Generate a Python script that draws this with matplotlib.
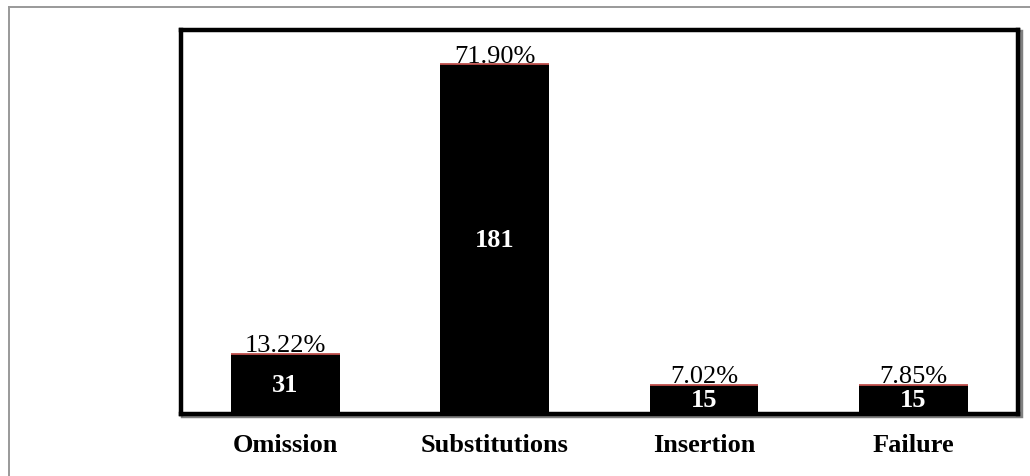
import matplotlib.pyplot as plt
from matplotlib.patches import Rectangle
from matplotlib.lines import Line2D

# data
categories = ['Omission', 'Substitutions', 'Insertion', 'Failure']
counts = [31, 181, 15, 15]
percents = ['13.22%', '71.90%', '7.02%', '7.85%']

W, H = 1030, 476
fig = plt.figure(figsize=(W / 100, H / 100), dpi=100)
plt.rcParams['font.family'] = ['Liberation Serif', 'DejaVu Serif']

# axes placement in pixels
left, right, top, bottom = 180.5, 1018, 29.5, 413.5
ax = fig.add_axes([left / W, (H - bottom) / H, (right - left) / W, (bottom - top) / H])

x = list(range(len(categories)))
bars = ax.bar(x, counts, width=0.52, color='black', zorder=2)
ax.hlines(counts, [i - 0.26 for i in x], [i + 0.26 for i in x], color='#c0504d', lw=1.3, zorder=3)

for xi, c, p in zip(x, counts, percents):
    ax.annotate(p, (xi, c), xytext=(0, 1.0), textcoords='offset points',
                ha='center', va='baseline', fontsize=19, color='black')
    ax.text(xi, c / 2 - 1, str(c), ha='center', va='center', fontsize=19,
            fontweight='bold', color='white', zorder=4)

ax.set_xlim(-0.5, 3.5)
ax.set_ylim(0, 199)
ax.set_yticks([])
ax.set_xticks(x)
ax.set_xticklabels(categories, fontsize=19, fontweight='bold')
ax.tick_params(axis='x', length=0, pad=15)
for s in ax.spines.values():
    s.set_linewidth(3.2)
    s.set_color('black')
    s.set_zorder(5)

# gray shadow behind the frame
fig.patches.append(Rectangle(((left + 2.5) / W, (H - bottom - 2.5) / H), (right - left) / W,
                             (bottom - top) / H, transform=fig.transFigure, fill=False,
                             edgecolor='#7f7f7f', lw=3.2, zorder=-1))

# light outer border (top and left edges visible)
fig.lines.append(Line2D([8.5 / W, 1.0], [1 - 6.5 / H, 1 - 6.5 / H], transform=fig.transFigure,
                        color='#999999', lw=1.4))
fig.lines.append(Line2D([8.5 / W, 8.5 / W], [0, 1 - 6.5 / H], transform=fig.transFigure,
                        color='#999999', lw=1.4))

fig.savefig('out.png', dpi=100)
